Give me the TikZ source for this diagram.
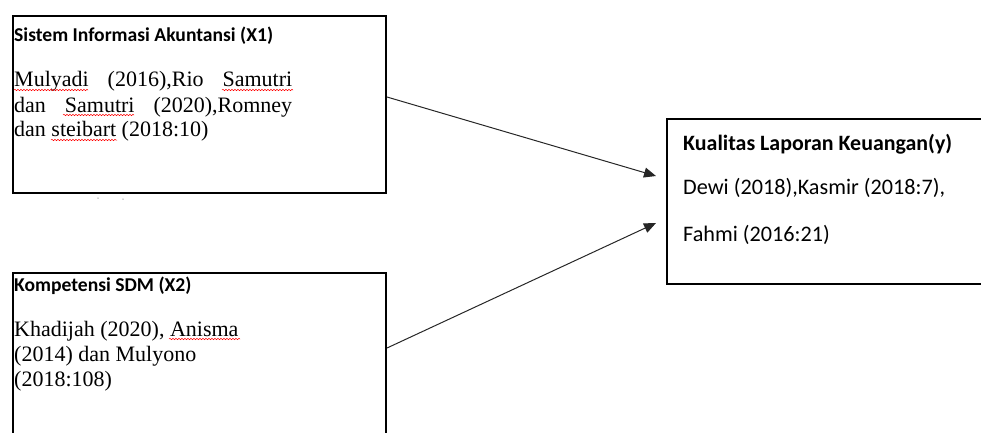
\documentclass[tikz,border=0pt]{standalone}
\usepackage{fontspec}
\setmainfont{Liberation Serif}
\newfontfamily\calib{Carlito}
\usetikzlibrary{arrows.meta,decorations.pathmorphing}
\begin{document}
\begin{tikzpicture}[x=1pt,y=-1pt,
  box/.style={draw=black,line width=2pt,rectangle,anchor=north west,inner sep=0pt},
  ttl/.style={anchor=base west,inner sep=0pt,font=\calib\bfseries\fontsize{19.6}{23}\selectfont},
  ttlb/.style={anchor=base west,inner sep=0pt,font=\calib\bfseries\fontsize{21.9}{26}\selectfont},
  body/.style={anchor=base west,inner sep=0pt,font=\fontsize{22}{25}\selectfont},
  bodyc/.style={anchor=base west,inner sep=0pt,font=\calib\fontsize{22.2}{26}\selectfont},
  conn/.style={draw=black!85,line width=1pt,-{Triangle[length=12pt,width=10pt]}},
  wavy/.style={draw=red,line width=0.5pt,decorate,decoration={snake,amplitude=0.7pt,segment length=3pt}},
  speck/.style={fill=black!35,inner sep=0pt,minimum size=1.5pt,circle}
]
\useasboundingbox (0,0) rectangle (981,432);
% boxes
\node[box,minimum width=373pt,minimum height=177pt] (b1) at (12,15) {};
\node[box,minimum width=373pt,minimum height=200pt] (b2) at (12,272) {};
\node[box,minimum width=340pt,minimum height=165pt] (b3) at (666,118) {};
% box 1 text
\node[ttl] (t1) at (14,41.5) {Sistem Informasi Akuntansi (X1)};
\node[body] (l11) at (14,86.7) {\hbox to 278pt{Mulyadi\hfill(2016),Rio\hfill Samutri}};
\node[body] (l12) at (14,112.7) {\hbox to 278pt{dan\hfill Samutri\hfill(2020),Romney}};
\node[body] (l13) at (14,136.7) {dan steibart (2018:10)};
% box 2 text
\node[ttl] (t2) at (14,291.7) {Kompetensi SDM (X2)};
\node[body] (l21) at (14,336) {Khadijah (2020), Anisma};
\node[body] (l22) at (14,361) {(2014) dan Mulyono};
\node[body] (l23) at (14,386) {(2018:108)};
% box 3 text
\node[ttlb] (t3) at (683,150) {Kualitas Laporan Keuangan(y)};
\node[bodyc] (l31) at (683,194) {Dewi (2018),Kasmir (2018:7),};
\node[bodyc] (l32) at (683,241.7) {Fahmi (2016:21)};
% spell-check underlines
\draw[wavy] (14,90) -- (88,90);
\draw[wavy] (222,90) -- (293,90);
\draw[wavy] (63,115) -- (134,115);
\draw[wavy] (51,140) -- (117,140);
\draw[wavy] (169,339) -- (240,339);
% specks
\node[speck] (p1) at (98,198) {};
\node[speck] (p2) at (123,199) {};
% connectors
\coordinate (s1) at ([yshift=-82pt]b1.north east);
\coordinate (s2) at ([yshift=-76pt]b2.north east);
\coordinate (e1) at ([xshift=-10pt,yshift=-58pt]b3.north west);
\coordinate (e2) at ([xshift=-10pt,yshift=-105pt]b3.north west);
\draw[conn] (s1) -- (e1);
\draw[conn] (s2) -- (e2);
\end{tikzpicture}
\end{document}
